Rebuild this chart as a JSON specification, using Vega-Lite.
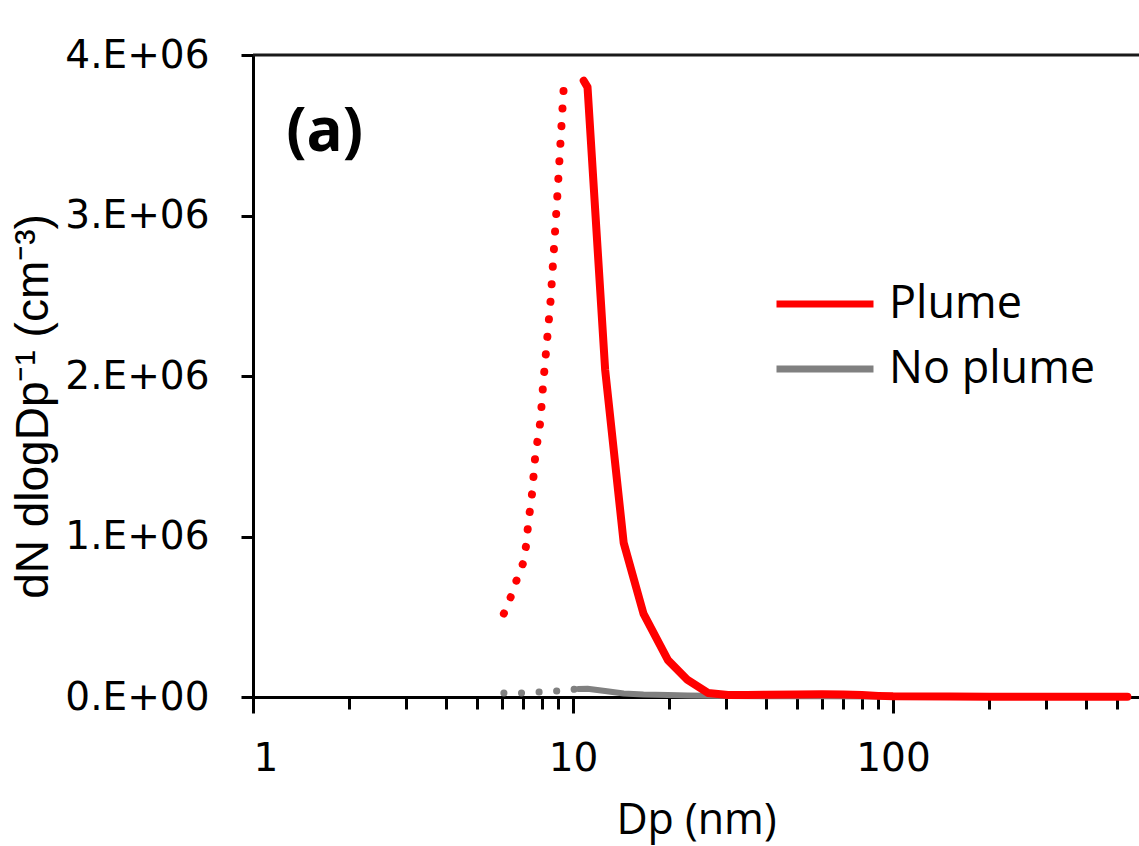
{
  "$schema": "https://vega.github.io/schema/vega-lite/v6.json",
  "width": 886,
  "height": 642,
  "autosize": "none",
  "padding": {"left": 253, "top": 55, "right": 0, "bottom": 149},
  "background": "white",
  "config": {
    "view": {"stroke": null},
    "axis": {"grid": false, "domainColor": "#000", "tickColor": "#000", "labelColor": "#000", "titleColor": "#000", "domainWidth": 3, "tickWidth": 3, "titleFontWeight": "normal"}
  },
  "datasets": {
    "plume": [
      {"dp": 10.8, "v": 3840000, "s": "Plume"},
      {"dp": 11.1, "v": 3800000, "s": "Plume"},
      {"dp": 12.6, "v": 2040000, "s": "Plume"},
      {"dp": 14.4, "v": 960000, "s": "Plume"},
      {"dp": 16.6, "v": 520000, "s": "Plume"},
      {"dp": 19.8, "v": 230000, "s": "Plume"},
      {"dp": 22.8, "v": 106000, "s": "Plume"},
      {"dp": 26.4, "v": 25000, "s": "Plume"},
      {"dp": 30.5, "v": 12000, "s": "Plume"},
      {"dp": 35, "v": 12000, "s": "Plume"},
      {"dp": 40, "v": 14000, "s": "Plume"},
      {"dp": 50, "v": 16000, "s": "Plume"},
      {"dp": 60, "v": 17000, "s": "Plume"},
      {"dp": 70, "v": 15000, "s": "Plume"},
      {"dp": 80, "v": 12000, "s": "Plume"},
      {"dp": 90, "v": 7000, "s": "Plume"},
      {"dp": 100, "v": 4000, "s": "Plume"},
      {"dp": 150, "v": 3000, "s": "Plume"},
      {"dp": 200, "v": 2000, "s": "Plume"},
      {"dp": 300, "v": 2000, "s": "Plume"},
      {"dp": 400, "v": 2000, "s": "Plume"},
      {"dp": 540, "v": 2000, "s": "Plume"}
    ],
    "plumeDot": [
      {"dp": 6.08, "v": 520000},
      {"dp": 6.38, "v": 620000},
      {"dp": 6.67, "v": 730000},
      {"dp": 6.97, "v": 830000},
      {"dp": 7.13, "v": 940000},
      {"dp": 7.23, "v": 1060000},
      {"dp": 7.34, "v": 1170000},
      {"dp": 7.45, "v": 1270000},
      {"dp": 7.62, "v": 1500000},
      {"dp": 7.91, "v": 1720000},
      {"dp": 8.06, "v": 1940000},
      {"dp": 8.51, "v": 2470000},
      {"dp": 8.92, "v": 3100000},
      {"dp": 9.38, "v": 3840000}
    ],
    "noplume": [
      {"dp": 10.4, "v": 50000, "s": "No plume"},
      {"dp": 11.1, "v": 52000, "s": "No plume"},
      {"dp": 12.6, "v": 38000, "s": "No plume"},
      {"dp": 14.4, "v": 22000, "s": "No plume"},
      {"dp": 16.6, "v": 15000, "s": "No plume"},
      {"dp": 19.8, "v": 12000, "s": "No plume"},
      {"dp": 22.8, "v": 10000, "s": "No plume"},
      {"dp": 26.4, "v": 8000, "s": "No plume"},
      {"dp": 30.5, "v": 6000, "s": "No plume"},
      {"dp": 40, "v": 5000, "s": "No plume"},
      {"dp": 60, "v": 4000, "s": "No plume"},
      {"dp": 100, "v": 3000, "s": "No plume"},
      {"dp": 200, "v": 2000, "s": "No plume"},
      {"dp": 540, "v": 2000, "s": "No plume"}
    ],
    "noplumeDot": [
      {"dp": 6.08, "v": 25000},
      {"dp": 6.95, "v": 25000},
      {"dp": 7.9, "v": 31000},
      {"dp": 8.9, "v": 37000},
      {"dp": 10.3, "v": 50000}
    ],
    "lab": [{"dp": 1.27, "v": 3400000, "t": "(a)"}]
  },
  "resolve": {"axis": {"x": "independent"}},
  "layer": [
    {
      "data": {"name": "noplumeDot"},
      "mark": {"type": "line", "color": "#808080", "strokeWidth": 7, "strokeCap": "round", "strokeDash": [0.1, 17.5]},
      "encoding": {
        "x": {"field": "dp", "type": "quantitative", "scale": {"type": "log", "domain": [1, 587], "nice": false},
          "axis": {"orient": "bottom", "values": [2,3,4,5,6,7,8,9,20,30,40,50,60,70,80,90,200,300,400,500], "labels": false, "domain": false, "tickSize": 12, "title": null}},
        "y": {"field": "v", "type": "quantitative", "scale": {"domain": [0, 4000000], "nice": false},
          "axis": {"values": [0, 1000000, 2000000, 3000000, 4000000], "labelExpr": "datum.value == 0 ? '0.E+00' : (datum.value/1000000) + '.E+06'", "labelFont": "DejaVu Sans", "labelFontSize": 39, "labelPadding": 32, "tickSize": 12, "labelBaseline": "middle",
            "title": "dN dlogDp⁻¹ (cm⁻³)", "titleFont": "Liberation Sans", "titleFontSize": 46, "titleAlign": "center", "titleBaseline": "alphabetic", "titleX": -206, "titleY": 351, "titleAngle": -90}}
      }
    },
    {
      "data": {"name": "noplume"},
      "mark": {"type": "line", "strokeWidth": 6, "strokeCap": "round", "strokeJoin": "round"},
      "encoding": {
        "x": {"field": "dp", "type": "quantitative",
          "axis": {"orient": "bottom", "values": [1, 10, 100], "format": "d", "labelFont": "DejaVu Sans", "labelFontSize": 39, "tickSize": 16, "labelBaseline": "alphabetic", "labelPadding": 57,
            "title": "Dp (nm)", "titleFont": "Open Sans", "titleFontSize": 43, "titleBaseline": "alphabetic", "titleY": 136}},
        "y": {"field": "v", "type": "quantitative"},
        "color": {"field": "s", "type": "nominal", "scale": {"domain": ["Plume", "No plume"], "range": ["#ff0000", "#808080"]},
          "legend": {"title": null, "orient": "none", "legendX": 544, "legendY": 221, "padding": 0, "symbolType": "M-2,0H2", "symbolSize": 2352, "symbolStrokeWidth": 7, "labelFont": "Open Sans", "labelFontSize": 45, "labelColor": "#000", "labelOffset": 36, "labelLimit": 0, "rowPadding": 14}}
      }
    },
    {
      "data": {"name": "plumeDot"},
      "mark": {"type": "line", "color": "#ff0000", "strokeWidth": 8, "strokeCap": "round", "strokeDash": [0.1, 17.5]},
      "encoding": {
        "x": {"field": "dp", "type": "quantitative", "axis": null},
        "y": {"field": "v", "type": "quantitative"}
      }
    },
    {
      "data": {"name": "plume"},
      "mark": {"type": "line", "strokeWidth": 8, "strokeCap": "round", "strokeJoin": "round"},
      "encoding": {
        "x": {"field": "dp", "type": "quantitative", "axis": null},
        "y": {"field": "v", "type": "quantitative"},
        "color": {"field": "s", "type": "nominal"}
      }
    },
    {
      "data": {"values": [{}]},
      "mark": {"type": "rule", "color": "#1a1a1a", "strokeWidth": 3},
      "encoding": {"y": {"datum": 4000000, "type": "quantitative"}}
    },
    {
      "data": {"name": "lab"},
      "mark": {"type": "text", "font": "Open Sans", "fontWeight": "bold", "fontSize": 60, "align": "left", "baseline": "alphabetic", "color": "#000"},
      "encoding": {
        "x": {"field": "dp", "type": "quantitative", "axis": null},
        "y": {"field": "v", "type": "quantitative"},
        "text": {"field": "t"}
      }
    }
  ]
}
